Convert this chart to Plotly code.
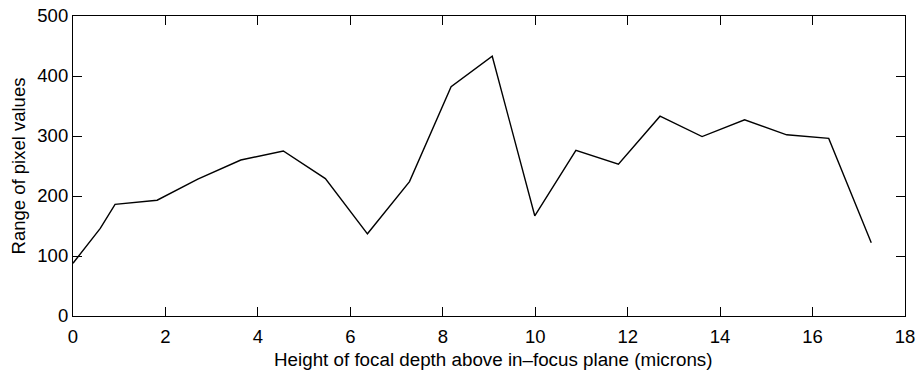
import plotly.graph_objects as go

# Focal height above the in-focus plane (microns) and pixel-value range
heights = [0.0, 0.59, 0.91, 1.82, 2.70, 3.63, 4.55, 5.46, 6.37, 7.28,
           8.18, 9.07, 9.99, 10.88, 11.80, 12.70, 13.61, 14.53, 15.44, 16.35, 17.27]
ranges = [88, 146, 186, 193, 228, 260, 275, 229, 137, 224,
          382, 433, 167, 276, 253, 333, 299, 327, 302, 296, 122]

x_ticks = [0, 2, 4, 6, 8, 10, 12, 14, 16, 18]
y_ticks = [0, 100, 200, 300, 400, 500]

X_TITLE = "Height of focal depth above in\u2013focus plane (microns)"
Y_TITLE = "Range of pixel values"

FONT = "Liberation Sans, Arial, sans-serif"

fig = go.Figure(
    go.Scatter(
        x=heights, y=ranges, mode="lines",
        line=dict(color="black", width=1.4),
        showlegend=False, hoverinfo="skip",
    )
)

axis_common = dict(
    showgrid=False, zeroline=False, automargin=False,
    showline=True, linecolor="black", linewidth=1.2, mirror="ticks",
    ticks="inside", ticklen=9, tickwidth=1.2, tickcolor="black",
    tickfont=dict(family=FONT, size=18.5, color="black"),
)

fig.update_xaxes(
    range=[0, 18], tickvals=x_ticks, ticktext=[str(v) for v in x_ticks],
    ticklabelstandoff=4,
    **axis_common,
)
fig.update_yaxes(
    range=[0, 500], tickvals=y_ticks, ticktext=[str(v) for v in y_ticks],
    title=dict(text=Y_TITLE, font=dict(family=FONT, size=18.5, color="black"),
               standoff=6),
    **axis_common,
)

# x-axis title placed under the tick labels
fig.add_annotation(
    text=X_TITLE, xref="paper", yref="paper", x=0.5, y=0,
    xanchor="center", yanchor="middle", xshift=4, yshift=-43,
    showarrow=False, font=dict(family=FONT, size=18.8, color="black"),
)

fig.update_layout(
    width=917, height=370,
    margin=dict(l=73, r=12, t=16, b=54),
    paper_bgcolor="white", plot_bgcolor="white",
)

fig.write_html("out.html")
